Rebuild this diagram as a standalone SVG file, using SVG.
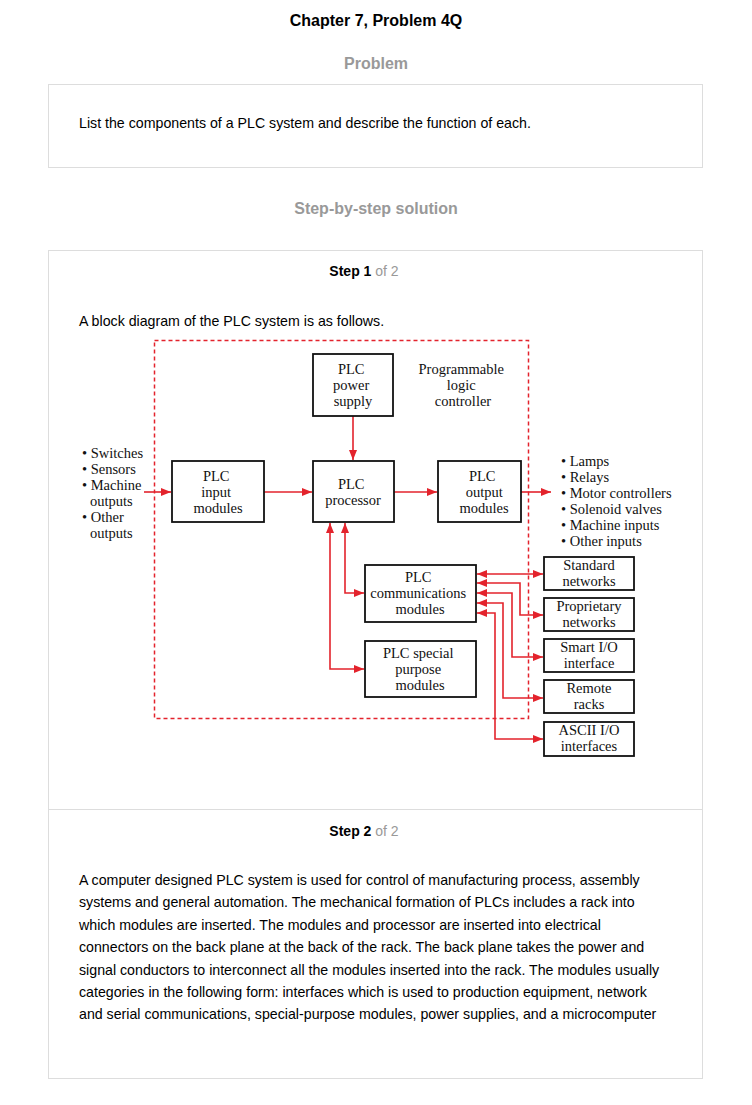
<svg xmlns="http://www.w3.org/2000/svg" width="752" height="1105" viewBox="0 0 752 1105">
  <style>
    .sans { font-family: "Liberation Sans", Arial, sans-serif; }
    .h1 { font-size: 16px; font-weight: bold; fill: #000; }
    .h2 { font-size: 16px; font-weight: bold; fill: #999; }
    .body { font-size: 14.2px; fill: #000; }
    .step { font-size: 14px; font-weight: bold; fill: #000; }
    .of { font-weight: normal; fill: #999; }
    .card { fill: #fff; stroke: #ddd; stroke-width: 1; }
    .serif { font-family: "Liberation Serif", "Times New Roman", serif; font-size: 14.5px; fill: #111; }
    .box { fill: #fff; stroke: #111; stroke-width: 1.8; }
    .wire { fill: none; stroke: #e3232c; stroke-width: 1.6; }
    .dash { fill: none; stroke: #e3232c; stroke-width: 1.5; stroke-dasharray: 4 3; }
  </style>
  <defs>
    <marker id="arrow" markerUnits="userSpaceOnUse" markerWidth="11" markerHeight="9" refX="10" refY="4" orient="auto-start-reverse">
      <path d="M0,0 L10,4 L0,8 z" fill="#e3232c"/>
    </marker>
  </defs>

  <rect width="752" height="1105" fill="#fff"/>

  <!-- headings -->
  <text class="sans h1" x="376" y="26" text-anchor="middle">Chapter 7, Problem 4Q</text>
  <text class="sans h2" x="376" y="69" text-anchor="middle">Problem</text>
  <rect class="card" x="48.5" y="84.5" width="654" height="83"/>
  <text class="sans body" x="79" y="128">List the components of a PLC system and describe the function of each.</text>
  <text class="sans h2" x="376" y="214" text-anchor="middle">Step-by-step solution</text>

  <!-- solution card -->
  <rect class="card" x="48.5" y="250.5" width="654" height="828"/>
  <line x1="48.5" y1="809.5" x2="702.5" y2="809.5" stroke="#ddd" stroke-width="1"/>
  <text class="sans step" x="364" y="276" text-anchor="middle">Step 1 <tspan class="of">of 2</tspan></text>
  <text class="sans body" x="79" y="326">A block diagram of the PLC system is as follows.</text>

  <!-- PLC enclosure -->
  <rect class="dash" x="154.5" y="340.5" width="374" height="378"/>
  <text class="serif" text-anchor="middle">
    <tspan x="463" y="374">Programmable</tspan>
    <tspan x="463" y="390">logic</tspan>
    <tspan x="463" y="406">controller</tspan>
  </text>

  <!-- connectors -->
  <g id="connectors">
    <line class="wire" x1="353" y1="416" x2="353" y2="460" marker-end="url(#arrow)"/>
    <line class="wire" x1="144" y1="492" x2="171" y2="492" marker-end="url(#arrow)"/>
    <line class="wire" x1="264" y1="492" x2="312" y2="492" marker-end="url(#arrow)"/>
    <line class="wire" x1="394" y1="492" x2="437" y2="492" marker-end="url(#arrow)"/>
    <line class="wire" x1="521" y1="492" x2="551" y2="492" marker-end="url(#arrow)"/>
    <polyline class="wire" points="345,523 345,593 364,593" marker-start="url(#arrow)" marker-end="url(#arrow)"/>
    <polyline class="wire" points="330,523 330,669 364,669" marker-start="url(#arrow)" marker-end="url(#arrow)"/>
    <polyline class="wire" points="477,574 543,574" marker-start="url(#arrow)" marker-end="url(#arrow)"/>
    <polyline class="wire" points="477,583 520,583 520,615 543,615" marker-start="url(#arrow)" marker-end="url(#arrow)"/>
    <polyline class="wire" points="477,593 512,593 512,657 543,657" marker-start="url(#arrow)" marker-end="url(#arrow)"/>
    <polyline class="wire" points="477,603 503,603 503,698 543,698" marker-start="url(#arrow)" marker-end="url(#arrow)"/>
    <polyline class="wire" points="477,613 495,613 495,739 543,739" marker-start="url(#arrow)" marker-end="url(#arrow)"/>
  </g>

  <!-- field devices -->
  <g id="inputs">
    <text class="serif">
      <tspan x="82" y="458">• Switches</tspan>
      <tspan x="82" y="474">• Sensors</tspan>
      <tspan x="82" y="490">• Machine</tspan>
      <tspan x="90" y="506">outputs</tspan>
      <tspan x="82" y="522">• Other</tspan>
      <tspan x="90" y="538">outputs</tspan>
    </text>
  </g>
  <g id="outputs">
    <text class="serif">
      <tspan x="561" y="466">• Lamps</tspan>
      <tspan x="561" y="482">• Relays</tspan>
      <tspan x="561" y="498">• Motor controllers</tspan>
      <tspan x="561" y="514">• Solenoid valves</tspan>
      <tspan x="561" y="530">• Machine inputs</tspan>
      <tspan x="561" y="546">• Other inputs</tspan>
    </text>
  </g>

  <!-- PLC blocks -->
  <g id="power-supply">
    <rect class="box" x="313" y="354" width="80" height="62"/>
    <text class="serif" text-anchor="middle">
      <tspan x="353" y="374">PLC</tspan>
      <tspan x="353" y="390">power</tspan>
      <tspan x="353" y="406">supply</tspan>
    </text>
  </g>
  <g id="input-modules">
    <rect class="box" x="172" y="461" width="92" height="61"/>
    <text class="serif" text-anchor="middle">
      <tspan x="218" y="481">PLC</tspan>
      <tspan x="218" y="497">input</tspan>
      <tspan x="218" y="513">modules</tspan>
    </text>
  </g>
  <g id="processor">
    <rect class="box" x="313" y="461" width="81" height="61"/>
    <text class="serif" text-anchor="middle">
      <tspan x="353" y="489">PLC</tspan>
      <tspan x="353" y="505">processor</tspan>
    </text>
  </g>
  <g id="output-modules">
    <rect class="box" x="438" y="461" width="83" height="61"/>
    <text class="serif" text-anchor="middle">
      <tspan x="484" y="481">PLC</tspan>
      <tspan x="486" y="497">output</tspan>
      <tspan x="484" y="513">modules</tspan>
    </text>
  </g>
  <g id="communications-modules">
    <rect class="box" x="365" y="565" width="111" height="57"/>
    <text class="serif" text-anchor="middle">
      <tspan x="420" y="582">PLC</tspan>
      <tspan x="420" y="598">communications</tspan>
      <tspan x="420" y="614">modules</tspan>
    </text>
  </g>
  <g id="special-purpose-modules">
    <rect class="box" x="365" y="641" width="111" height="56"/>
    <text class="serif" text-anchor="middle">
      <tspan x="420" y="658">PLC special</tspan>
      <tspan x="420" y="674">purpose</tspan>
      <tspan x="420" y="690">modules</tspan>
    </text>
  </g>

  <!-- external links -->
  <g id="standard-networks">
    <rect class="box" x="544" y="557" width="90" height="33"/>
    <text class="serif" text-anchor="middle"><tspan x="589" y="570">Standard</tspan><tspan x="589" y="586">networks</tspan></text>
  </g>
  <g id="proprietary-networks">
    <rect class="box" x="544" y="598" width="90" height="33"/>
    <text class="serif" text-anchor="middle"><tspan x="589" y="611">Proprietary</tspan><tspan x="589" y="627">networks</tspan></text>
  </g>
  <g id="smart-io">
    <rect class="box" x="544" y="639" width="90" height="33"/>
    <text class="serif" text-anchor="middle"><tspan x="589" y="652">Smart I/O</tspan><tspan x="589" y="668">interface</tspan></text>
  </g>
  <g id="remote-racks">
    <rect class="box" x="544" y="680" width="90" height="33"/>
    <text class="serif" text-anchor="middle"><tspan x="589" y="693">Remote</tspan><tspan x="589" y="709">racks</tspan></text>
  </g>
  <g id="ascii-io">
    <rect class="box" x="544" y="722" width="90" height="34"/>
    <text class="serif" text-anchor="middle"><tspan x="589" y="735">ASCII I/O</tspan><tspan x="589" y="751">interfaces</tspan></text>
  </g>

  <!-- step 2 -->
  <text class="sans step" x="364" y="836" text-anchor="middle">Step 2 <tspan class="of">of 2</tspan></text>
  <text class="sans body">
    <tspan x="79" y="885">A computer designed PLC system is used for control of manufacturing process, assembly</tspan>
    <tspan x="79" y="907">systems and general automation. The mechanical formation of PLCs includes a rack into</tspan>
    <tspan x="79" y="930">which modules are inserted. The modules and processor are inserted into electrical</tspan>
    <tspan x="79" y="952">connectors on the back plane at the back of the rack. The back plane takes the power and</tspan>
    <tspan x="79" y="975">signal conductors to interconnect all the modules inserted into the rack. The modules usually</tspan>
    <tspan x="79" y="997">categories in the following form: interfaces which is used to production equipment, network</tspan>
    <tspan x="79" y="1019">and serial communications, special-purpose modules, power supplies, and a microcomputer</tspan>
  </text>
</svg>
